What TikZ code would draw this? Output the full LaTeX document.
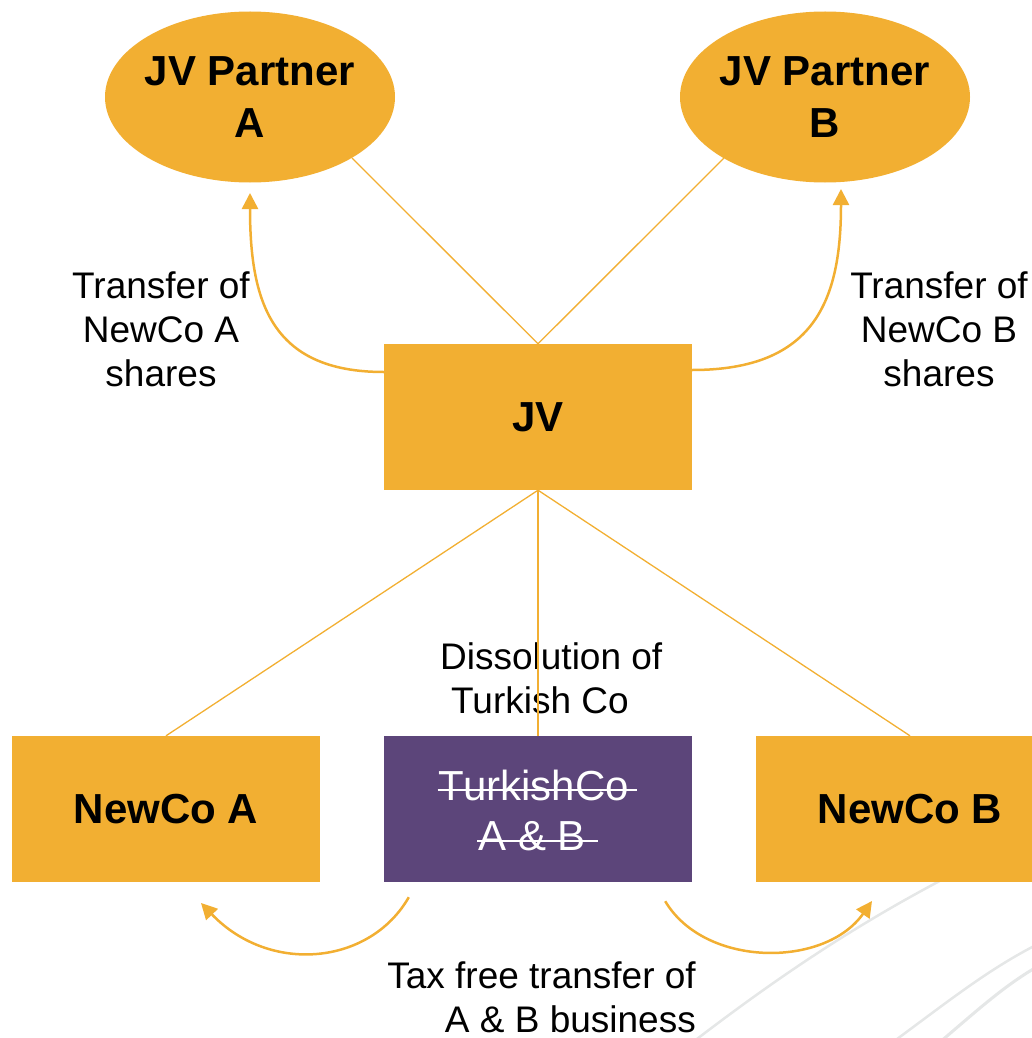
\documentclass[tikz,border=0pt]{standalone}
\usepackage{fontspec}
\setmainfont{Liberation Sans}
\usetikzlibrary{shapes.geometric,arrows.meta}
\definecolor{jvorange}{RGB}{242,175,50}
\definecolor{jvpurple}{RGB}{92,69,122}
\definecolor{bggray}{RGB}{229,231,231}
\begin{document}
\begin{tikzpicture}[x=1pt,y=-1pt,
  entity/.style={fill=jvorange, draw=none, minimum width=308pt, minimum height=146pt,
    inner sep=0pt, font=\fontsize{42}{52}\selectfont\bfseries, align=center},
  partner/.style={ellipse, fill=jvorange, draw=none, minimum width=290pt, minimum height=171pt,
    inner xsep=-5pt, inner ysep=0pt, font=\fontsize{42}{52}\selectfont\bfseries, align=center},
  dissolved/.style={fill=jvpurple, draw=none, minimum width=308pt, minimum height=146pt, inner sep=0pt},
  whitetext/.style={text=white, inner sep=0pt, anchor=base, font=\fontsize{42}{50}\selectfont},
  link/.style={draw=jvorange, line width=1.3pt},
  flow/.style={draw=jvorange, line width=2.5pt, -{Triangle[length=16pt,width=16pt]}},
  label/.style={font=\fontsize{37}{44}\selectfont, inner sep=0pt},
  strike/.style={draw=white, line width=2pt},
  bgline/.style={draw=bggray, line width=2.5pt}]
\clip (0,0) rectangle (1032,1038);
% background decoration
\draw[bgline] (693,1042) .. controls (800,960) and (900,895) .. (1040,832);
\draw[bgline] (893,1042) .. controls (950,1000) and (990,968) .. (1040,943);
\draw[bgline, line width=3pt] (940,1042) .. controls (980,1008) and (1005,985) .. (1040,965);
% nodes
\node[partner] (pa) at (250,97) {JV Partner\\A};
\node[partner] (pb) at (825,97) {JV Partner\\B};
\node[entity] (jv) at (538,417) {JV};
\node[entity] (na) at (166,809) {NewCo A};
\node[entity] (nb) at (910,809) {NewCo B};
\node[dissolved] (tc) at (538,809) {};
\node[whitetext] (tc1) at (538,800) {TurkishCo\kern0.2em};
\node[whitetext] (tc2) at (538,850) {A \& B\kern0.278em};
\draw[strike] ([xshift=-1pt,yshift=10pt]tc1.base west) -- ([yshift=10pt]tc1.base east);
\draw[strike] ([xshift=-1pt,yshift=9pt]tc2.base west) -- ([yshift=9pt]tc2.base east);
% labels
\node[label, align=center] (la) at (161,329) {Transfer of\\NewCo A\\shares};
\node[label, align=center] (lb) at (939,329) {Transfer of\\NewCo B\\shares};
\node[label, align=left, anchor=west] (ld) at (440,678) {Dissolution of\\\hspace*{11pt}Turkish Co};
\node[label, align=right, anchor=east] (lt) at (696,997) {Tax free transfer of\\A \& B business};
% ownership links
\coordinate (pafoot) at (352,158);
\coordinate (pbfoot) at (724,158);
\draw[link] (jv.north) -- (pafoot);
\draw[link] (jv.north) -- (pbfoot);
\draw[link] (jv.south) -- (na.north);
\draw[link] (jv.south) -- (tc.north);
\draw[link] (jv.south) -- (nb.north);
% transfer flows
\coordinate (fa) at (250,193);
\coordinate (fb) at (841,189);
\coordinate (fc) at (201,903);
\coordinate (fd) at (872,901);
\draw[flow] ([yshift=45pt]jv.west) .. controls (270,372) and (250,300) .. (fa);
\draw[flow] ([yshift=47pt]jv.east) .. controls (815,370) and (841,300) .. (fb);
\draw[flow] ([xshift=25pt,yshift=-15pt]tc.south west) .. controls (370,965) and (270,975) .. (fc);
\draw[flow] ([xshift=-27pt,yshift=-19pt]tc.south east) .. controls (705,968) and (825,968) .. (fd);
\end{tikzpicture}
\end{document}
